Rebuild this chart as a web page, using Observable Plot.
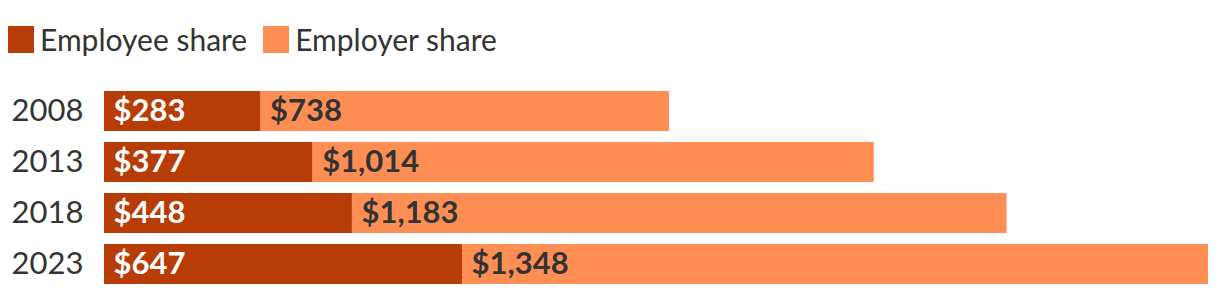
<!DOCTYPE html>
<html>
<head>
<meta charset="utf-8">
<script src="https://cdn.jsdelivr.net/npm/d3@7"></script>
<script src="https://cdn.jsdelivr.net/npm/@observablehq/plot@0.6"></script>
<style>
  body { margin: 0; background: #fff; font-family: Lato, "Noto Sans", sans-serif; }
  #legend { height: 70px; display: flex; align-items: flex-start; padding-left: 8px; box-sizing: border-box; padding-top: 21px; }
  .item { display: flex; align-items: center; margin-right: 16px; }
  .sw { width: 26px; height: 27px; margin-right: 6px; }
  .lab { font-size: 30px; color: #333; line-height: 37px; }
</style>
</head>
<body>
<div id="legend"></div>
<div id="chart"></div>
<script>
const years = ["2008", "2013", "2018", "2023"];
const employeeShare = [283, 377, 448, 647];
const employerShare = [738, 1014, 1183, 1348];
const seriesNames = ["Employee share", "Employer share"];
const seriesColors = ["#b83c06", "#ff8e55"];
const labelColors = ["#ffffff", "#333333"];

const data = [];
years.forEach((y, i) => {
  data.push({year: y, type: seriesNames[0], value: employeeShare[i]});
  data.push({year: y, type: seriesNames[1], value: employerShare[i]});
});

const legend = document.getElementById("legend");
seriesNames.forEach((n, i) => {
  const it = document.createElement("div");
  it.className = "item";
  it.innerHTML = `<div class="sw" style="background:${seriesColors[i]}"></div><span class="lab">${n}</span>`;
  legend.appendChild(it);
});

const fmt = d3.format("$,");
const chart = Plot.plot({
  width: 1220,
  height: 226,
  marginLeft: 104,
  marginRight: 12,
  marginTop: 9,
  marginBottom: 1,
  style: {fontFamily: "Lato, sans-serif", color: "#333"},
  x: {axis: null, domain: [0, d3.max(years.map((_, i) => employeeShare[i] + employerShare[i]))]},
  y: {domain: years, padding: 0.22, label: null, tickSize: 0, tickPadding: 21, tickFormat: d => d},
  color: {domain: seriesNames, range: seriesColors},
  marks: [
    Plot.barX(data, Plot.stackX({x: "value", y: "year", fill: "type", order: seriesNames})),
    Plot.text(data, Plot.stackX1({
      x: "value", y: "year", z: "type", order: seriesNames,
      text: d => fmt(d.value),
      fill: d => labelColors[seriesNames.indexOf(d.type)],
      textAnchor: "start", dx: 9, fontSize: 31, fontWeight: "bold"
    })),
    Plot.axisY({tickSize: 0, tickPadding: 21, fontSize: 31, label: null, fill: "#333"})
  ]
});
document.getElementById("chart").appendChild(chart);
</script>
</body>
</html>
